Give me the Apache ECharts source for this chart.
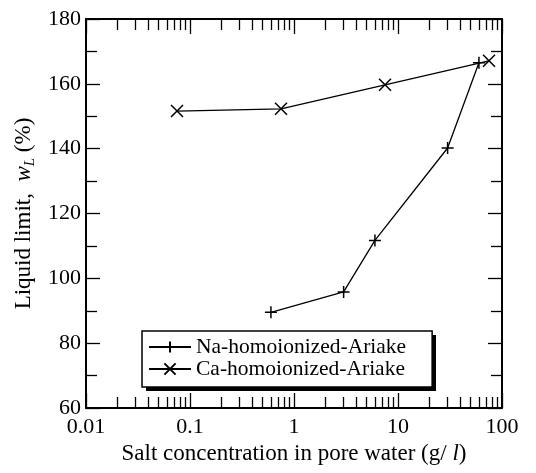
<!DOCTYPE html>
<html><head><meta charset="utf-8">
<script src="https://cdn.jsdelivr.net/npm/echarts@6/dist/echarts.min.js"></script>
<style>html,body{margin:0;padding:0;background:#fff}#c{width:536px;height:473px}</style>
</head><body><div id="c"></div>
<script>
// ---- data ----
const naX = [0.6, 3, 6, 30, 60];
const naY = [89.5, 95.8, 111.7, 140.2, 166.5];
const caX = [0.075, 0.75, 7.5, 75];
const caY = [151.6, 152.3, 159.7, 167.1];
const seriesNames = ['Na-homoionized-Ariake', 'Ca-homoionized-Ariake'];
const xMajorTicks = [0.01, 0.1, 1, 10, 100];
const xTickLabels = ['0.01', '0.1', '1', '10', '100'];
const xMinorTicks = [0.02,0.03,0.04,0.05,0.06,0.07,0.08,0.09,
                     0.2,0.3,0.4,0.5,0.6,0.7,0.8,0.9,
                     2,3,4,5,6,7,8,9,
                     20,30,40,50,60,70,80,90];
const yMin = 60, yMax = 180, yStep = 20;

// ---- chart ----
const font = 'Liberation Serif';
const tickLine = {color:'#000', width:1.3};
const axisLineStyle = {show:true, lineStyle:{color:'#000', width:2}};

function xAx(pos, major, withLabel) {
  const a = {
    type:'log', logBase:10, min:0.01, max:100, position:pos, gridIndex:0,
    axisLine: major ? axisLineStyle : {show:false},
    axisTick:{show:true, inside:true, length: major ? 15 : 11,
              customValues: major ? xMajorTicks : xMinorTicks, lineStyle:tickLine},
    axisLabel:{show:false},
    splitLine:{show:false}, minorTick:{show:false}
  };
  if (withLabel) {
    a.axisLabel = {show:true, customValues:xMajorTicks, color:'#000', fontFamily:font, fontSize:22, margin:8,
      formatter: v => { const i = xMajorTicks.findIndex(t => Math.abs(Math.log10(t) - Math.log10(v)) < 1e-6); return i >= 0 ? xTickLabels[i] : ''; }};
    a.name = '{a|Salt concentration in pore water (g/ }{i|l}{a|)}';
    a.nameLocation = 'middle';
    a.nameGap = 32;
    a.nameTextStyle = {color:'#000', fontFamily:font, fontSize:23,
      rich:{a:{color:'#000', fontFamily:font, fontSize:23}, i:{color:'#000', fontFamily:font, fontSize:23, fontStyle:'italic'}}};
  }
  return a;
}
function yAx(pos, withLabel) {
  const a = {
    type:'value', min:yMin, max:yMax, interval:yStep, position:pos,
    axisLine: axisLineStyle,
    axisTick:{show:true, inside:true, length:14, lineStyle:tickLine},
    minorTick:{show:true, splitNumber:2, length:11, lineStyle:tickLine},
    axisLabel:{show:withLabel, color:'#000', fontFamily:font, fontSize:22, margin:5},
    splitLine:{show:false}
  };
  if (withLabel) {
    a.name = '{a|Liquid limit,  }{i|w}{s|L}{a| (%)}';
    a.nameLocation = 'middle';
    a.nameGap = 48;
    a.nameRotate = 90;
    a.nameTextStyle = {color:'#000', fontFamily:font, fontSize:23,
      rich:{a:{color:'#000', fontFamily:font, fontSize:23},
            i:{color:'#000', fontFamily:font, fontSize:23, fontStyle:'italic'},
            s:{color:'#000', fontFamily:font, fontSize:15, fontStyle:'italic', padding:[12,0,0,0]}}};
  }
  return a;
}

const chart = echarts.init(document.getElementById('c'), null, {renderer:'canvas'});
chart.setOption({
  animation:false,
  backgroundColor:'#fff',
  grid:{left:86, right:34, top:19, bottom:65, containLabel:false, outerBoundsMode:'none'},
  xAxis:[xAx('bottom', true, true), xAx('bottom', false, false), xAx('top', true, false), xAx('top', false, false)],
  yAxis:[yAx('left', true), yAx('right', false)],
  legend:{
    orient:'vertical', left:142, top:331, itemWidth:42, itemHeight:14, itemGap:0,
    padding:[5,26,7,6], backgroundColor:'#fff', borderColor:'#000', borderWidth:1.5,
    textStyle:{fontFamily:font, fontSize:21.5, color:'#000'},
    data:seriesNames
  },
  graphic:[{type:'rect', z:-1, shape:{x:146, y:335, width:290, height:56}, style:{fill:'#000'}}],
  series:[
    {name:seriesNames[0], type:'line', xAxisIndex:0, yAxisIndex:0,
     data: naX.map((x,i)=>[x, naY[i]]),
     symbol:'path://M0,5L10,5M5,0L5,10', symbolSize:12,
     lineStyle:{color:'#000', width:1.3},
     itemStyle:{color:'#000', borderColor:'#000', borderWidth:1.5}},
    {name:seriesNames[1], type:'line', xAxisIndex:0, yAxisIndex:0,
     data: caX.map((x,i)=>[x, caY[i]]),
     symbol:'path://M0,0L10,10M0,10L10,0', symbolSize:12,
     lineStyle:{color:'#000', width:1.3},
     itemStyle:{color:'#000', borderColor:'#000', borderWidth:1.5}}
  ]
});
</script></body></html>
